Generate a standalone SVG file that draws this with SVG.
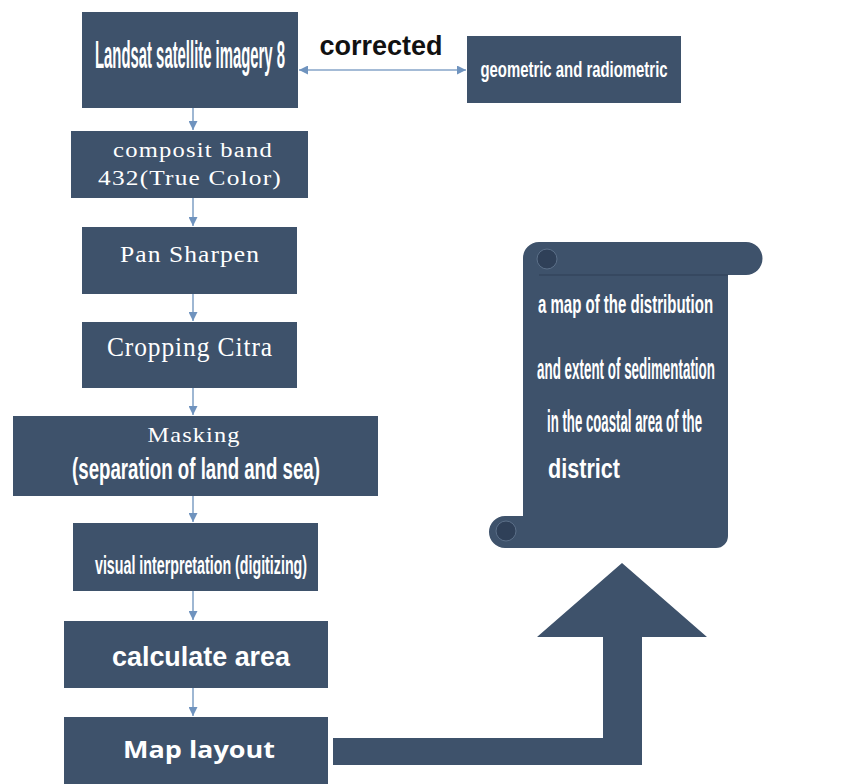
<svg xmlns="http://www.w3.org/2000/svg" width="848" height="784" viewBox="0 0 848 784">
<defs>
<style>
.box{fill:#3e526b}
.wt{fill:#ffffff}
.cond{font-family:"Liberation Sans",Arial,sans-serif;font-weight:bold}
.serif{font-family:"Liberation Serif","Times New Roman",serif;letter-spacing:1px}
.bold{font-family:"Liberation Sans",Arial,sans-serif;font-weight:bold}
.open{font-family:"Open Sans","Liberation Sans",sans-serif;font-weight:bold}
.conn{stroke:#86a5c8;stroke-width:1.6;fill:none}
</style>
<marker id="ah" viewBox="0 0 10 10" refX="10" refY="5" markerWidth="9" markerHeight="9" markerUnits="userSpaceOnUse" orient="auto-start-reverse">
<path d="M0,0 L10,5 L0,10 z" fill="#6f93be"/>
</marker>
</defs>
<rect width="848" height="784" fill="#ffffff"/>

<g id="connectors">
<line class="conn" x1="193" y1="108" x2="193" y2="130" marker-end="url(#ah)"/>
<line class="conn" x1="193" y1="198" x2="193" y2="226" marker-end="url(#ah)"/>
<line class="conn" x1="193" y1="294" x2="193" y2="321" marker-end="url(#ah)"/>
<line class="conn" x1="193" y1="388" x2="193" y2="415" marker-end="url(#ah)"/>
<line class="conn" x1="193" y1="496" x2="193" y2="522" marker-end="url(#ah)"/>
<line class="conn" x1="193" y1="591" x2="193" y2="620" marker-end="url(#ah)"/>
<line class="conn" x1="193" y1="688" x2="193" y2="716" marker-end="url(#ah)"/>
<line class="conn" x1="299" y1="70" x2="466" y2="70" marker-start="url(#ah)" marker-end="url(#ah)"/>
<path id="big-arrow" class="box" d="M333,738 L603,738 L603,637 L537,637 L622,563 L707,637 L642,637 L642,765 L333,765 Z"/>
</g>

<g id="corrected-label">
<text class="bold" x="381" y="55" font-size="27" text-anchor="middle" fill="#111111">corrected</text>
</g>

<g id="landsat">
<rect class="box" x="82" y="12" width="216" height="96"/>
<text class="cond wt" transform="translate(190,68) scale(0.391,1)" x="0" y="0" font-size="38" text-anchor="middle" textLength="486" lengthAdjust="spacingAndGlyphs">Landsat satellite imagery 8</text>
</g>

<g id="geometric">
<rect class="box" x="467" y="36" width="214" height="67"/>
<text class="cond wt" transform="translate(574,77) scale(0.678,1)" x="0" y="0" font-size="22" text-anchor="middle" textLength="276" lengthAdjust="spacingAndGlyphs">geometric and radiometric</text>
</g>

<g id="composit">
<rect class="box" x="71" y="131" width="237" height="67"/>
<text class="serif wt" x="193" y="157" font-size="20" text-anchor="middle" textLength="160" lengthAdjust="spacingAndGlyphs">composit band</text>
<text class="serif wt" x="190" y="185" font-size="21" text-anchor="middle" textLength="184" lengthAdjust="spacingAndGlyphs">432(True Color)</text>
</g>

<g id="pansharpen">
<rect class="box" x="82" y="227" width="215" height="67"/>
<text class="serif wt" x="190" y="262" font-size="24" text-anchor="middle" textLength="140" lengthAdjust="spacingAndGlyphs">Pan Sharpen</text>
</g>

<g id="cropping">
<rect class="box" x="82" y="322" width="215" height="66"/>
<text class="serif wt" x="190" y="356" font-size="28" text-anchor="middle" textLength="166" lengthAdjust="spacingAndGlyphs">Cropping Citra</text>
</g>

<g id="masking">
<rect class="box" x="13" y="416" width="365" height="80"/>
<text class="serif wt" x="194" y="442" font-size="22" text-anchor="middle" textLength="93" lengthAdjust="spacingAndGlyphs">Masking</text>
<text class="cond wt" transform="translate(196,479) scale(0.644,1)" x="0" y="0" font-size="29" text-anchor="middle" textLength="385" lengthAdjust="spacingAndGlyphs">(separation of land and sea)</text>
</g>

<g id="visual">
<rect class="box" x="73" y="523" width="245" height="68"/>
<text class="cond wt" transform="translate(201,574) scale(0.57,1)" x="0" y="0" font-size="25" text-anchor="middle" textLength="372" lengthAdjust="spacingAndGlyphs">visual interpretation (digitizing)</text>
</g>

<g id="calculate">
<rect class="box" x="64" y="621" width="264" height="67"/>
<text class="bold wt" x="201" y="666" font-size="27" text-anchor="middle" textLength="178" lengthAdjust="spacingAndGlyphs">calculate area</text>
</g>

<g id="maplayout">
<rect class="box" x="64" y="717" width="264" height="67"/>
<text class="open wt" x="199" y="758" font-size="24" text-anchor="middle" textLength="152" lengthAdjust="spacingAndGlyphs">Map layout</text>
</g>

<g id="scroll">
<path class="box" d="M523,258 A16,16 0 0 1 539,242 L746,242 A16.5,16.5 0 0 1 746,275 L728,275 L728,536 A12,12 0 0 1 716,548 L505,548 A16,16 0 0 1 505,516 L523,516 Z"/>
<circle cx="547" cy="259" r="10" fill="#2f4058" stroke="#5b6f88" stroke-width="1"/>
<circle cx="506" cy="531" r="10" fill="#2f4058" stroke="#5b6f88" stroke-width="1"/>
<line x1="539" y1="275" x2="728" y2="275" stroke="#34465d" stroke-width="1.5"/>
<text class="cond wt" transform="translate(625.5,313) scale(0.6,1)" x="0" y="0" font-size="25" text-anchor="middle" textLength="292" lengthAdjust="spacingAndGlyphs">a map of the distribution</text>
<text class="cond wt" transform="translate(626,379) scale(0.462,1)" x="0" y="0" font-size="29" text-anchor="middle" textLength="385" lengthAdjust="spacingAndGlyphs">and extent of sedimentation</text>
<text class="cond wt" transform="translate(624.5,432) scale(0.427,1)" x="0" y="0" font-size="31" text-anchor="middle" textLength="363" lengthAdjust="spacingAndGlyphs">in the coastal area of the</text>
<text class="bold wt" transform="translate(548,478) scale(0.774,1)" x="0" y="0" font-size="28" textLength="93" lengthAdjust="spacingAndGlyphs">district</text>
</g>
</svg>
